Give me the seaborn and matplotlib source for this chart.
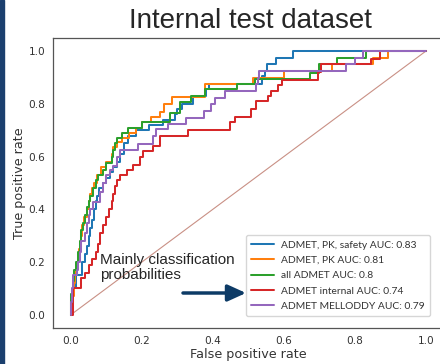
import matplotlib
matplotlib.use("Agg")
import matplotlib.pyplot as plt
from matplotlib.patches import Rectangle
import pandas as pd
import seaborn as sns

# ROC curves (fpr where the curve jumps, tpr after the jump)
labels = ["ADMET, PK, safety AUC: 0.83",
          "ADMET, PK AUC: 0.81",
          "all ADMET AUC: 0.8",
          "ADMET internal AUC: 0.74",
          "ADMET MELLODDY AUC: 0.79"]

fpr_safety = [0, 0, 0.005, 0.014, 0.033, 0.04, 0.045, 0.05, 0.055, 0.06, 0.065, 0.07, 0.075, 0.08,
              0.09, 0.10, 0.11, 0.12, 0.13, 0.14, 0.15, 0.16, 0.185, 0.22, 0.26, 0.295, 0.30,
              0.312, 0.344, 0.382, 0.39, 0.54, 0.546, 0.552, 0.579, 0.626, 1.0]
tpr_safety = [0, 0.05, 0.10, 0.15, 0.20, 0.23, 0.26, 0.30, 0.33, 0.36, 0.40, 0.43, 0.45, 0.48,
              0.50, 0.52, 0.54, 0.56, 0.58, 0.61, 0.65, 0.68, 0.70, 0.72, 0.74, 0.76, 0.78,
              0.80, 0.83, 0.856, 0.875, 0.906, 0.926, 0.951, 0.976, 1.0, 1.0]

fpr_pk = [0, 0, 0.008, 0.012, 0.018, 0.022, 0.028, 0.032, 0.038, 0.045, 0.05, 0.055, 0.06, 0.065,
          0.075, 0.085, 0.10, 0.115, 0.12, 0.13, 0.145, 0.165, 0.185, 0.20, 0.225, 0.25, 0.262,
          0.286, 0.377, 0.514, 0.60, 0.737, 0.85, 0.894, 1.0]
tpr_pk = [0, 0.07, 0.12, 0.17, 0.20, 0.25, 0.30, 0.34, 0.37, 0.40, 0.43, 0.46, 0.48, 0.50,
          0.53, 0.56, 0.58, 0.61, 0.635, 0.655, 0.67, 0.69, 0.71, 0.73, 0.75, 0.77, 0.80,
          0.827, 0.875, 0.90, 0.926, 0.951, 0.976, 1.0, 1.0]

fpr_all = [0, 0, 0.005, 0.008, 0.015, 0.02, 0.025, 0.03, 0.035, 0.04, 0.045, 0.05, 0.055, 0.062,
           0.07, 0.077, 0.09, 0.10, 0.115, 0.12, 0.125, 0.13, 0.145, 0.16, 0.20, 0.279, 0.307,
           0.34, 0.377, 0.467, 0.52, 0.673, 0.70, 0.751, 0.833, 1.0]
tpr_all = [0, 0.08, 0.13, 0.17, 0.20, 0.24, 0.28, 0.32, 0.35, 0.38, 0.41, 0.43, 0.45, 0.48,
           0.51, 0.53, 0.55, 0.575, 0.60, 0.625, 0.65, 0.67, 0.69, 0.71, 0.73, 0.767, 0.806,
           0.831, 0.856, 0.875, 0.894, 0.919, 0.951, 0.976, 1.0, 1.0]

fpr_internal = [0, 0.005, 0.028, 0.04, 0.05, 0.06, 0.07, 0.078, 0.082, 0.09, 0.10, 0.108, 0.115,
                0.12, 0.125, 0.13, 0.14, 0.157, 0.175, 0.194, 0.204, 0.232, 0.251, 0.33, 0.448,
                0.462, 0.509, 0.521, 0.556, 0.565, 0.585, 0.595, 0.697, 0.705, 0.847, 0.87, 1.0]
tpr_internal = [0, 0.10, 0.14, 0.16, 0.19, 0.21, 0.24, 0.27, 0.31, 0.34, 0.37, 0.40, 0.43,
                0.46, 0.49, 0.51, 0.53, 0.55, 0.57, 0.60, 0.62, 0.64, 0.68, 0.70, 0.73,
                0.75, 0.78, 0.81, 0.83, 0.85, 0.87, 0.89, 0.92, 0.95, 0.97, 1.0, 1.0]

fpr_melloddy = [0, 0, 0.003, 0.005, 0.018, 0.02, 0.025, 0.03, 0.04, 0.045, 0.05, 0.055, 0.063,
                0.082, 0.09, 0.10, 0.11, 0.119, 0.13, 0.14, 0.19, 0.232, 0.24, 0.275, 0.324,
                0.375, 0.396, 0.405, 0.434, 0.523, 0.527, 0.53, 0.776, 0.80, 0.824, 1.0]
tpr_melloddy = [0, 0.05, 0.10, 0.15, 0.17, 0.20, 0.24, 0.28, 0.31, 0.35, 0.38, 0.40, 0.427,
                0.465, 0.50, 0.53, 0.55, 0.566, 0.60, 0.625, 0.648, 0.68, 0.705, 0.723, 0.748,
                0.775, 0.80, 0.824, 0.85, 0.875, 0.90, 0.926, 0.951, 0.976, 1.0, 1.0]

curves = [(fpr_safety, tpr_safety), (fpr_pk, tpr_pk), (fpr_all, tpr_all),
          (fpr_internal, tpr_internal), (fpr_melloddy, tpr_melloddy)]
colors = ["#1f77b4", "#ff7f0e", "#2ca02c", "#d62728", "#9467bd"]

sns.set_style("white")
plt.rcParams["font.family"] = "DejaVu Sans"

fig = plt.figure(figsize=(4.4, 3.64), dpi=100)
ax = fig.add_axes([0.1205, 0.0989, 0.8875, 0.7967])

# chance line
sns.lineplot(x=[0, 1], y=[0, 1], ax=ax, color="#c99085", linewidth=0.8)

for (fpr, tpr), lab, col in zip(curves, labels, colors):
    df = pd.DataFrame({"fpr": fpr, "tpr": tpr})
    sns.lineplot(data=df, x="fpr", y="tpr", ax=ax, sort=False, estimator=None,
                 drawstyle="steps-post", color=col, linewidth=1.45, label=lab)

ax.set_xlim(-0.05, 1.05)
ax.set_ylim(-0.05, 1.05)
ax.set_xticks([0, 0.2, 0.4, 0.6, 0.8, 1.0])
ax.set_yticks([0, 0.2, 0.4, 0.6, 0.8, 1.0])
ax.tick_params(labelsize=7.6, colors="#333333", length=3.5, width=0.8, pad=2)
for s in ax.spines.values():
    s.set_color("#555555")
    s.set_linewidth(0.9)
ax.set_xlabel("False positive rate", fontsize=9.2, color="#333333", labelpad=1.5)
ax.set_ylabel("True positive rate", fontsize=9.2, color="#333333", labelpad=2)

leg = ax.legend(loc="lower left", bbox_to_anchor=(0.494, 0.041), borderaxespad=0,
                prop={"family": "Lato", "size": 7.4},
                handlelength=2.2, handletextpad=0.7, labelspacing=0.6, borderpad=0.5,
                frameon=True, edgecolor="#cccccc")
for t in leg.get_texts():
    t.set_color("#333333")

# slide decoration: title, note and arrow
fig.text(250 / 440, 1 - 28 / 364, "Internal test dataset", ha="center", va="baseline",
         fontsize=20, family="Liberation Sans")
fig.text(100 / 440, 1 - 279 / 364, "Mainly classification\nprobabilities", ha="left", va="baseline",
         fontsize=11, family="Liberation Sans", linespacing=1.05)
ax.annotate("", xy=(246 / 440, 1 - 293 / 364), xytext=(183 / 440, 1 - 293 / 364),
            xycoords="figure fraction", textcoords="figure fraction",
            arrowprops=dict(arrowstyle="-|>,head_length=0.55,head_width=0.25", color="#0d3b66",
                            lw=2.5, mutation_scale=20, shrinkA=0, shrinkB=0))
fig.patches.append(Rectangle((0, 0), 4 / 440, 1, transform=fig.transFigure, color="#1b3f6e"))

fig.savefig("out.png", dpi=100)
